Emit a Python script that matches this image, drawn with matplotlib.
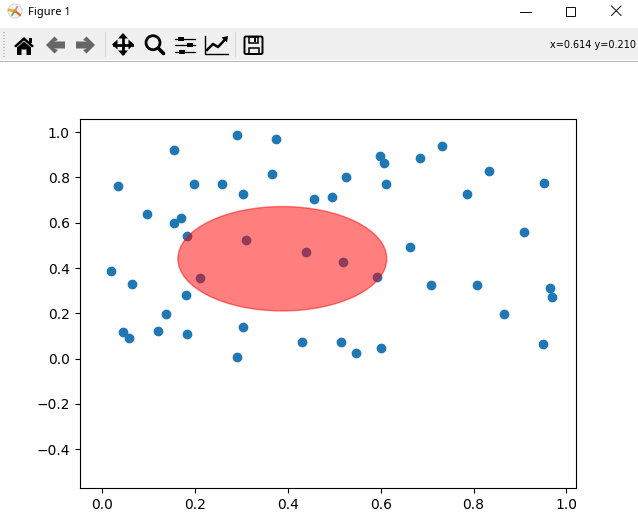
import matplotlib
matplotlib.use('Agg')
import matplotlib.pyplot as plt
from matplotlib.patches import Ellipse, Rectangle, Polygon, Circle, FancyBboxPatch

# puntos
xs = [.2910, .3748, .1549, .3664, .0344, .1981, .2583, .3035, .4572, .0970,
      .1699, .1549, .1826, .3105, .4397, .0193, .0645, .2111, .1810, .1378,
      .0454, .0582, .1207, .1830, .3035, .4311, .2910,
      .7329, .5992, .6078, .6852, .8338, .5255, .6118, .9523, .4953, .7866,
      .9091, .6641, .5194, .5928, .7093, .8082, .9654, .9694, .8659, .9503,
      .5154, .5476, .6013]
ys = [.9863, .9684, .9195, .8137, .7608, .7698, .7698, .7258, .7034, .6370,
      .6191, .5971, .5402, .5223, .4694, .3855, .3276, .3546, .2797, .1959,
      .1161, .0896, .1201, .1071, .1380, .0722, .0053,
      .9374, .8935, .8626, .8845, .8266, .8007, .7698, .7738, .7119, .7258,
      .5572, .4913, .4255, .3586, .3237, .3237, .3107, .2708, .1959, .0632,
      .0722, .0233, .0452]
ellipse_center = (0.388, 0.441)
ellipse_width = 0.45
ellipse_height = 0.461
window_title = "Figure 1"
cursor_text = "x=0.614 y=0.210"

W, H = 638, 515
fig = plt.figure(figsize=(W / 100, H / 100), dpi=100)

# grafico principal (posicion en pixeles de la captura)
ax = fig.add_axes([79.5 / W, 1 - 488.3 / H, 496 / W, 369 / H])
ax.scatter(xs, ys)
ax.add_patch(Ellipse(ellipse_center, ellipse_width, ellipse_height, color='red', alpha=0.5))
ax.set_xlim(-0.0491, 1.0198)
ax.set_ylim(-0.573, 1.057)
ax.set_xticks([0, .2, .4, .6, .8, 1.0])
ax.set_yticks([-.4, -.2, 0, .2, .4, .6, .8, 1.0])

# ventana: barra de titulo y barra de herramientas
ui = fig.add_axes([0, 0, 1, 1], zorder=5)
ui.set_xlim(0, W)
ui.set_ylim(H, 0)
ui.axis('off')
ui.patch.set_alpha(0)

ui.add_patch(Rectangle((0, 28), W, 32, color='#f0f0f0', lw=0))
ui.plot([0, W], [60.5, 60.5], color='#b5b5b5', lw=0.72)
for yy in range(32, 58, 3):
    ui.plot([3, 4], [yy, yy], color='#c0c0c0', lw=0.72)
ui.plot([104.5, 104.5], [32, 56], color='#d4d4d4', lw=0.72)
ui.plot([234.5, 234.5], [32, 56], color='#d4d4d4', lw=0.72)

# icono de la ventana
ui.add_patch(Circle((15, 11), 7, fc='#f4f4f4', ec='#d8d8d8', lw=0.8))
ui.plot([9, 15], [10, 11], color='#f0b020', lw=2)
ui.plot([15, 20], [11, 15], color='#e06030', lw=1.5)
ui.plot([12, 15], [15, 11], color='#50b050', lw=1.2)
ui.plot([15, 17], [11, 7], color='#e08080', lw=1.2)
ui.text(28.3, 12, window_title, fontsize=8, family='Noto Sans', va='center', ha='left', color='black')

# botones de la ventana
ui.plot([520, 531], [11.5, 11.5], color='#111111', lw=0.72)
ui.add_patch(Rectangle((565.5, 6.5), 9, 9, fc='none', ec='#111111', lw=0.72))
ui.plot([611.5, 621], [6, 15.5], color='#111111', lw=0.72)
ui.plot([611.5, 621], [15.5, 6], color='#111111', lw=0.72)

# casa
ui.add_patch(Polygon([(14, 46), (24, 37), (34, 46), (32, 47.5), (24, 40.5), (16, 47.5)], color='black', lw=0))
ui.add_patch(Polygon([(17, 47.5), (24, 41.5), (31, 47.5), (31, 55), (26.5, 55), (26.5, 49.5), (21.5, 49.5), (21.5, 55), (17, 55)], color='black', lw=0))
ui.add_patch(Rectangle((29, 38), 2.5, 5, color='black', lw=0))

# flechas
gray = '#666666'
ui.add_patch(Polygon([(46, 45), (54.5, 36.5), (58, 40), (54, 41.5), (65, 41.5), (65, 48.5), (54, 48.5), (58, 50), (54.5, 53.5)], color=gray, lw=0))
ui.add_patch(Polygon([(95, 45), (86.5, 36.5), (83, 40), (87, 41.5), (76, 41.5), (76, 48.5), (87, 48.5), (83, 50), (86.5, 53.5)], color=gray, lw=0))

# mover
ui.plot([123, 123], [36, 53], color='black', lw=2)
ui.plot([114, 132], [44.5, 44.5], color='black', lw=2)
ui.add_patch(Polygon([(123, 33), (118, 38.5), (128, 38.5)], color='black', lw=0))
ui.add_patch(Polygon([(123, 56), (118, 50.5), (128, 50.5)], color='black', lw=0))
ui.add_patch(Polygon([(112, 44.5), (117.5, 39.5), (117.5, 49.5)], color='black', lw=0))
ui.add_patch(Polygon([(134, 44.5), (128.5, 39.5), (128.5, 49.5)], color='black', lw=0))

# lupa
ui.add_patch(Circle((153, 42.7), 7, fc='none', ec='black', lw=2))
ui.plot([158, 163.5], [48, 53.5], color='black', lw=2.6, solid_capstyle='round')

# ajustes
for yy, xk in [(38.5, 180.5), (45, 190), (51.5, 182)]:
    ui.plot([175, 195], [yy, yy], color='black', lw=0.9)
    ui.add_patch(Rectangle((xk - 3, yy - 2), 6, 4, color='black', lw=0))

# linea
ui.plot([205, 205, 228], [36, 53.5, 53.5], color='black', lw=1)
ui.plot([207, 213, 218, 226], [50, 44, 47, 38.5], color='black', lw=1.8)
ui.add_patch(Polygon([(228, 36), (221.5, 37.5), (227, 42.5)], color='black', lw=0))

# disquete
ui.add_patch(FancyBboxPatch((244.5, 36.5), 18, 17.5, boxstyle='round,pad=0,rounding_size=1.5', fc='none', ec='black', lw=1.4))
ui.add_patch(Rectangle((249, 37), 8.5, 6, fc='none', ec='black', lw=1.1))
ui.add_patch(Rectangle((248.5, 47.5), 10, 6.5, fc='none', ec='black', lw=1.1))
ui.add_patch(Rectangle((253.5, 38), 2, 3.5, color='black', lw=0))

ui.text(636, 45.5, cursor_text, fontsize=7, family='DejaVu Sans', va='center', ha='right', color='black')

fig.savefig('out.png', dpi=100)
